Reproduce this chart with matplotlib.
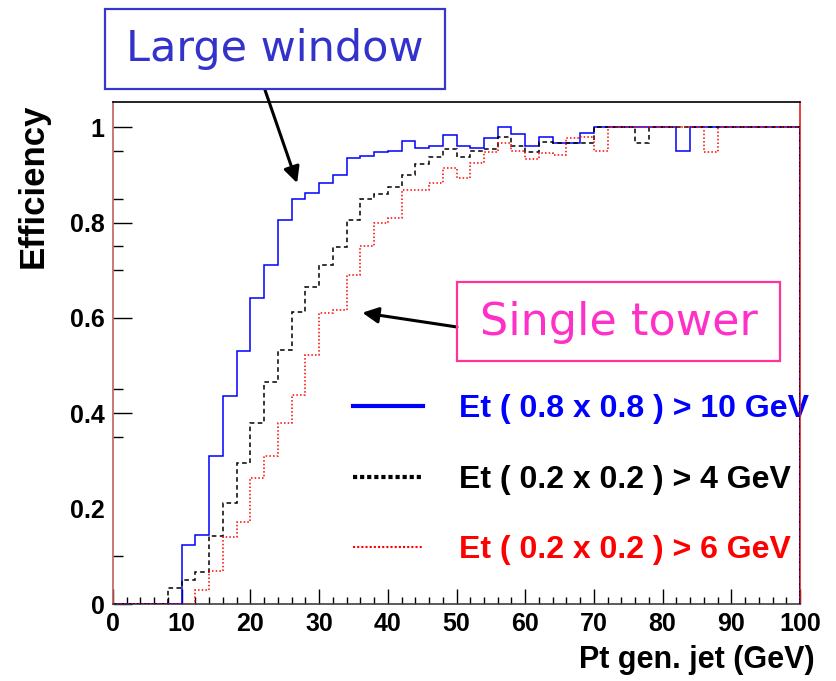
import numpy as np
import matplotlib
matplotlib.use("Agg")
import matplotlib.pyplot as plt
from matplotlib.lines import Line2D
from matplotlib.patches import Rectangle
from matplotlib.ticker import MultipleLocator, FixedLocator

plt.rcParams['font.family'] = ['Liberation Sans', 'DejaVu Sans']

# 2 GeV bins from 0 to 100
edges = np.arange(0, 101, 2)

# Et (0.8 x 0.8) > 10 GeV  (large window)
large_win = [0, 0, 0, 0, 0,
             0.123, 0.144, 0.311, 0.437, 0.531, 0.641, 0.711, 0.806, 0.849, 0.863,
             0.883, 0.900, 0.936, 0.940, 0.948, 0.950, 0.971, 0.957, 0.960, 0.983,
             0.961, 0.957, 0.978, 1.0, 0.985, 0.961, 0.980, 0.966, 0.966, 0.987,
             1.0, 1.0, 1.0, 1.0, 1.0, 1.0, 0.95,
             1.0, 1.0, 1.0, 1.0, 1.0, 1.0, 1.0, 1.0]

# Et (0.2 x 0.2) > 4 GeV
tower_4 = [0, 0, 0, 0,
           0.033, 0.050, 0.068, 0.142, 0.212, 0.296, 0.380, 0.465, 0.533, 0.613,
           0.664, 0.711, 0.748, 0.806, 0.849, 0.860, 0.874, 0.900, 0.922, 0.937,
           0.954, 0.938, 0.950, 0.954, 0.980, 0.960, 0.949, 0.970, 0.966, 0.967,
           0.968,
           1.0, 1.0, 1.0, 0.966,
           1.0, 1.0, 1.0, 1.0, 1.0, 1.0, 1.0, 1.0, 1.0, 1.0, 1.0]

# Et (0.2 x 0.2) > 6 GeV
tower_6 = [0, 0, 0, 0, 0, 0,
           0.030, 0.070, 0.140, 0.172, 0.265, 0.311, 0.379, 0.439, 0.523, 0.610,
           0.617, 0.690, 0.750, 0.800, 0.809, 0.869, 0.869, 0.884, 0.915, 0.893,
           0.925, 0.949, 0.966, 0.951, 0.933, 0.945, 0.942, 0.977, 0.980, 0.951,
           1.0, 1.0, 1.0, 1.0, 1.0, 1.0, 1.0, 0.949,
           1.0, 1.0, 1.0, 1.0, 1.0, 1.0]

labels = ["Et ( 0.8 x 0.8 ) > 10 GeV",
          "Et ( 0.2 x 0.2 ) > 4 GeV",
          "Et ( 0.2 x 0.2 ) > 6 GeV"]

fig = plt.figure(figsize=(8.36, 6.81), dpi=100)
ax = fig.add_axes([113 / 836, 77 / 681, 687 / 836, 502 / 681])

ax.stairs(large_win, edges, baseline=0, color="#0000ff", lw=1.1, zorder=3)
ax.stairs(tower_4, edges, baseline=0, color="black", lw=1.1,
          linestyle=(0, (3, 2.2)), zorder=3)
ax.stairs(tower_6, edges, baseline=0, color="#ff0000", lw=1.1,
          linestyle=(0, (1, 1.4)), zorder=3)

ax.set_xlim(0, 100)
ax.set_ylim(0, 1.053)

ax.xaxis.set_major_locator(MultipleLocator(10))
ax.xaxis.set_minor_locator(MultipleLocator(2))
ax.yaxis.set_major_locator(MultipleLocator(0.2))
ax.yaxis.set_minor_locator(FixedLocator([0.1, 0.35, 0.45, 0.7, 0.75, 0.85, 0.95]))
ax.yaxis.set_major_formatter(plt.FuncFormatter(lambda v, p: "%g" % round(v, 2)))

ax.tick_params(axis="x", which="major", direction="in", length=11, width=1,
               labelsize=18, pad=6)
ax.tick_params(axis="x", which="minor", direction="in", length=5, width=1)
ax.tick_params(axis="y", which="major", direction="in", length=14, width=1,
               labelsize=18, pad=6)
ax.tick_params(axis="y", which="minor", direction="in", length=7, width=1)
for lab in ax.get_xticklabels() + ax.get_yticklabels():
    lab.set_fontweight("bold")
# no major tick mark at 0.4 in the original
ax.yaxis.get_major_ticks()[2].tick1line.set_visible(False)

ax.spines["left"].set_color("#c06060")
ax.spines["bottom"].set_color("#404040")
ax.spines["top"].set_color("black")
ax.spines["right"].set_color("#e02020")
for s in ax.spines.values():
    s.set_linewidth(1.2)

fig.text(815 / 836, 13 / 681, "Pt gen. jet (GeV)", ha="right", va="baseline",
         fontsize=22, fontweight="bold")
fig.text(33 / 836, 1 - 103 / 681, "Efficiency", rotation=90, ha="center",
         va="top", fontsize=25, fontweight="bold")

# legend
handles = [Line2D([], [], color="#0000ff", lw=3),
           Line2D([], [], color="black", lw=3, linestyle=(0, (1, 0.7))),
           Line2D([], [], color="#ff0000", lw=1.5, linestyle=(0, (1, 1)))]
leg = ax.legend(handles, labels, loc="upper left", bbox_to_anchor=(0.349, 0.418),
                frameon=False, handlelength=2.19, handletextpad=1.13,
                labelspacing=1.27, borderpad=0, borderaxespad=0,
                labelcolor=["#0000ff", "black", "#ff0000"],
                prop={"weight": "bold", "size": 23})
leg.set_zorder(2)

# annotation boxes
fig.patches.append(Rectangle((105 / 836, 1 - 89 / 681), 340 / 836, 80 / 681,
                             transform=fig.transFigure, fill=False,
                             edgecolor="#3838c8", lw=1.6))
fig.text(275 / 836, 1 - 49 / 681, "Large window", ha="center", va="center",
         fontsize=31, color="#3333cc", family="DejaVu Sans")
fig.patches.append(Rectangle((457 / 836, 1 - 361 / 681), 323 / 836, 79 / 681,
                             transform=fig.transFigure, fill=False,
                             edgecolor="#ff3399", lw=1.6))
fig.text(619 / 836, 1 - 322 / 681, "Single tower", ha="center", va="center",
         fontsize=32, color="#ff30c8", family="DejaVu Sans")

arrow = dict(arrowstyle="-|>", color="black", lw=2.2, mutation_scale=24,
             shrinkA=0, shrinkB=0)
ax.annotate("", xy=(26.8, 0.883), xytext=(265, 681 - 90),
            textcoords="figure pixels", arrowprops=arrow, annotation_clip=False)
ax.annotate("", xy=(36.3, 0.611), xytext=(457, 681 - 327),
            textcoords="figure pixels", arrowprops=arrow, annotation_clip=False)

fig.savefig("out.png", dpi=100)
